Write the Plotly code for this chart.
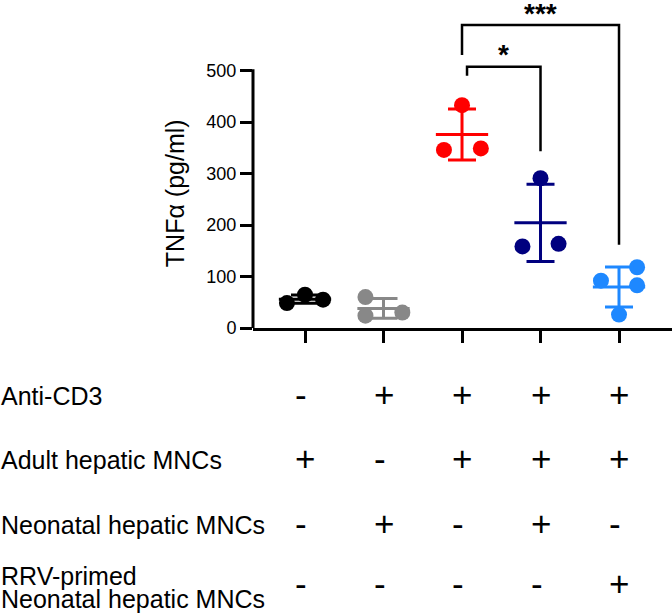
import numpy as np
import plotly.graph_objects as go

# ---------------- data ----------------
groups = [1, 2, 3, 4, 5]
colors = ['#000000', '#888888', '#ff0000', '#00007f', '#1e88ff']
values = [
    [48.5, 64.6, 55.0],
    [60.0, 24.0, 30.0],
    [346.0, 433.0, 349.0],
    [158.5, 291.0, 163.6],
    [92.0, 26.0, 118.0, 83.0],
]
jitter = [
    [-0.23, 0.0, 0.23],
    [-0.23, -0.23, 0.24],
    [-0.23, 0.0, 0.24],
    [-0.23, 0.0, 0.23],
    [-0.23, 0.0, 0.23, 0.23],
]
y_ticks = [0, 100, 200, 300, 400, 500]

row_labels = ['Anti-CD3', 'Adult hepatic MNCs', 'Neonatal hepatic MNCs',
              ['RRV-primed', 'Neonatal hepatic MNCs']]
signs = [
    ['-', '+', '+', '+', '+'],
    ['+', '-', '+', '+', '+'],
    ['-', '+', '-', '+', '-'],
    ['-', '-', '-', '-', '+'],
]
# significance brackets: x_left, x_right, y_left_end, y_top, y_right_end, label
brackets = [
    (3.0, 5.0, 530.6, 588.6, 162.0, '***'),
    (3.064, 4.0, 490.3, 507.8, 343.7, '*'),
]

# ---------------- layout constants ----------------
W, H = 672, 614
ML, MR, MT, MB = 253, 0, 0, 286
PH = H - MT - MB
FONT = 'Liberation Sans, Arial, sans-serif'
YMAX = 637.4
XR = [0.3376, 5.675]

fig = go.Figure()

for g, col, vals, jit in zip(groups, colors, values, jitter):
    v = np.array(vals)
    m = v.mean()
    sd = v.std(ddof=1)
    fig.add_trace(go.Scatter(
        x=[g + j for j in jit], y=vals, mode='markers',
        marker=dict(size=16, color=col, line=dict(width=0)),
        showlegend=False, hoverinfo='y'))
    fig.add_trace(go.Scatter(
        x=[g - 0.333, g + 0.333], y=[m, m], mode='lines',
        line=dict(color=col, width=3), showlegend=False, hoverinfo='skip'))
    fig.add_trace(go.Scatter(
        x=[g], y=[m], mode='markers',
        marker=dict(size=1, color='rgba(0,0,0,0)'),
        error_y=dict(type='data', array=[sd], color=col, thickness=3, width=14),
        showlegend=False, hoverinfo='skip'))

shapes = []
# y-axis line only from 0 to 500
shapes.append(dict(type='line', xref='paper', yref='y', x0=0, x1=0,
                   y0=-3, y1=y_ticks[-1] + 3, line=dict(color='black', width=3)))
annotations = []
for xl, xr, yl, yt, yr, lab in brackets:
    shapes.append(dict(type='path', xref='x', yref='y',
                       path=f'M {xl},{yl} L {xl},{yt} L {xr},{yt} L {xr},{yr}',
                       line=dict(color='black', width=2.5)))
    annotations.append(dict(x=(xl + xr) / 2, y=yt + 23, xref='x', yref='y',
                            text=f'<b>{lab}</b>', showarrow=False,
                            xanchor='center', yanchor='middle',
                            font=dict(family=FONT, size=28, color='black')))

# y-axis title
annotations.append(dict(x=0, xshift=-78, y=262, xref='paper', yref='y',
                        text='TNFα (pg/ml)', textangle=-90, showarrow=False,
                        xanchor='center', yanchor='middle',
                        font=dict(family=FONT, size=25, color='black')))

# table below the plot
row_px = [394, 458, 523, 583]


def paper_y(px):
    return (MT + PH - px) / PH


for r, (lab, row) in enumerate(zip(row_labels, signs)):
    if isinstance(lab, list):
        for k, part in enumerate(lab):
            annotations.append(dict(x=0, xshift=-ML - 1, y=paper_y(row_px[r] - 7 + 23 * k),
                                    xref='paper', yref='paper', text=part,
                                    showarrow=False, xanchor='left', yanchor='middle',
                                    font=dict(family=FONT, size=25, color='black')))
    else:
        annotations.append(dict(x=0, xshift=-ML - 1, y=paper_y(row_px[r] + 2),
                                xref='paper', yref='paper', text=lab,
                                showarrow=False, xanchor='left', yanchor='middle',
                                font=dict(family=FONT, size=25, color='black')))
    for g, s in zip(groups, row):
        annotations.append(dict(x=g, xshift=-12, y=paper_y(row_px[r]),
                                xref='x', yref='paper', text=s,
                                showarrow=False, xanchor='left', yanchor='middle',
                                font=dict(family=FONT, size=35, color='black')))

fig.update_layout(
    width=W, height=H,
    margin=dict(l=ML, r=MR, t=MT, b=MB, pad=0),
    plot_bgcolor='white', paper_bgcolor='white',
    shapes=shapes, annotations=annotations,
    xaxis=dict(range=XR, showgrid=False, zeroline=False, showline=True,
               linecolor='black', linewidth=3, ticks='outside', ticklen=12,
               tickwidth=3, tickcolor='black', tickvals=groups,
               showticklabels=False, fixedrange=True),
    yaxis=dict(range=[0, YMAX], showgrid=False, zeroline=False, showline=False,
               ticks='outside', ticklen=12, tickwidth=3, tickcolor='black',
               tickvals=y_ticks, ticktext=[str(t) for t in y_ticks],
               ticklabelstandoff=0,
               tickfont=dict(family=FONT, size=18, color='black'), fixedrange=True),
    showlegend=False,
)

fig.write_html('out.html', config={'displayModeBar': False},
               post_script="document.body.style.margin='0';")
